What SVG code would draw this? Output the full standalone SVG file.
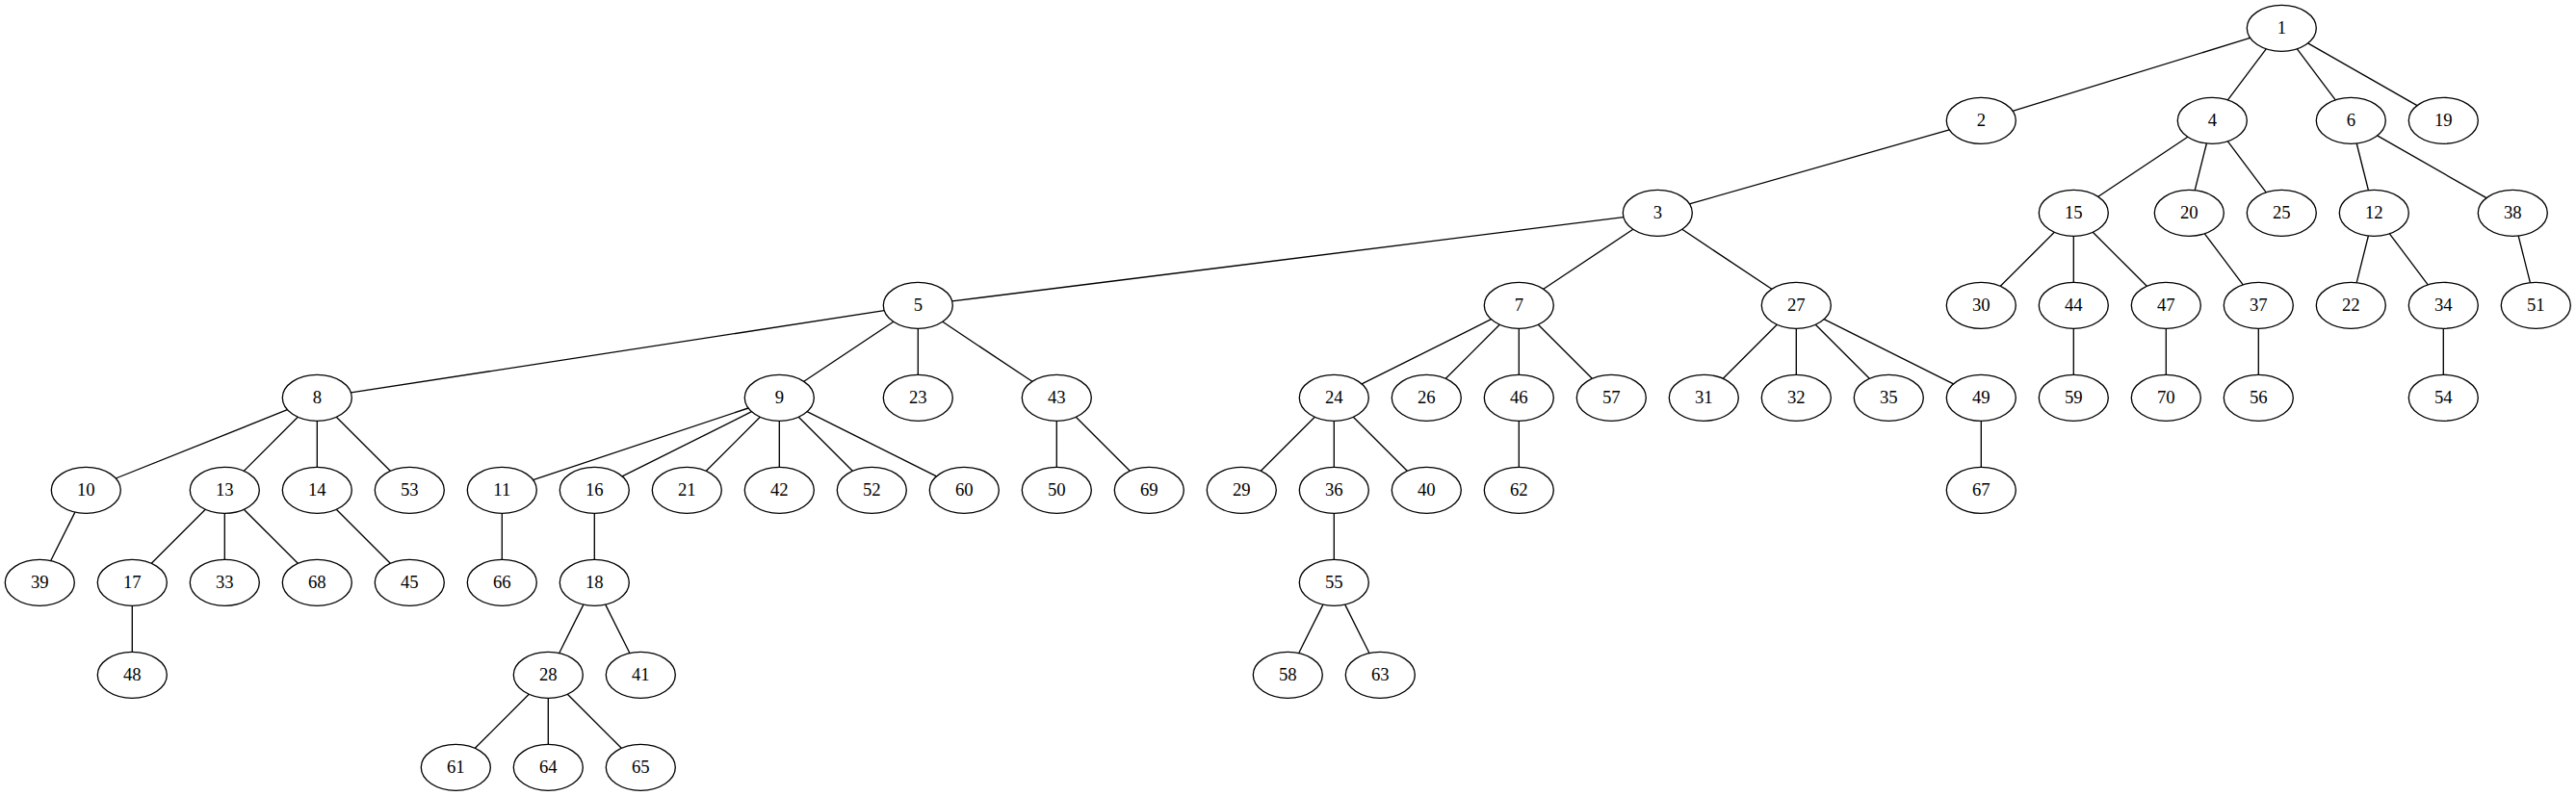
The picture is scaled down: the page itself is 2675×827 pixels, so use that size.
<svg xmlns="http://www.w3.org/2000/svg" width="2675" height="827" viewBox="0 0 2675 827">
<style>
.n ellipse{fill:none;stroke:#000;stroke-width:1.33}
.n text{font-family:"Liberation Serif","Times New Roman",serif;font-size:18.67px;text-anchor:middle;fill:#000}
.e line{stroke:#000;stroke-width:1.33}
</style>
<rect width="2675" height="827" fill="#fff"/>
<g id="edges" class="e">
<line x1="2336.6" y1="39.4" x2="2090.0" y2="115.3"/>
<line x1="2353.2" y1="50.8" x2="2313.4" y2="103.9"/>
<line x1="2385.4" y1="50.8" x2="2425.2" y2="103.9"/>
<line x1="2396.6" y1="44.9" x2="2510.0" y2="109.7"/>
<line x1="2024.2" y1="134.8" x2="1754.4" y2="211.9"/>
<line x1="2271.8" y1="142.3" x2="2178.8" y2="204.3"/>
<line x1="2291.4" y1="149.0" x2="2279.2" y2="197.6"/>
<line x1="2313.4" y1="146.8" x2="2353.2" y2="199.8"/>
<line x1="2447.2" y1="149.0" x2="2459.4" y2="197.6"/>
<line x1="2468.6" y1="140.9" x2="2582.0" y2="205.7"/>
<line x1="1685.9" y1="225.7" x2="988.7" y2="312.9"/>
<line x1="1695.8" y1="238.3" x2="1602.8" y2="300.3"/>
<line x1="1746.8" y1="238.3" x2="1839.8" y2="300.3"/>
<line x1="2133.3" y1="241.3" x2="2077.3" y2="297.3"/>
<line x1="2153.3" y1="245.3" x2="2153.3" y2="293.3"/>
<line x1="2173.3" y1="241.3" x2="2229.3" y2="297.3"/>
<line x1="2289.4" y1="242.8" x2="2329.2" y2="295.8"/>
<line x1="2459.4" y1="245.0" x2="2447.2" y2="293.6"/>
<line x1="2481.4" y1="242.8" x2="2521.2" y2="295.8"/>
<line x1="2615.2" y1="245.0" x2="2627.4" y2="293.6"/>
<line x1="918.2" y1="322.7" x2="364.4" y2="407.9"/>
<line x1="927.8" y1="334.3" x2="834.8" y2="396.3"/>
<line x1="953.3" y1="341.3" x2="953.3" y2="389.3"/>
<line x1="978.8" y1="334.3" x2="1071.8" y2="396.3"/>
<line x1="1548.5" y1="331.7" x2="1414.1" y2="398.9"/>
<line x1="1557.3" y1="337.3" x2="1501.3" y2="393.3"/>
<line x1="1577.3" y1="341.3" x2="1577.3" y2="389.3"/>
<line x1="1597.3" y1="337.3" x2="1653.3" y2="393.3"/>
<line x1="1845.3" y1="337.3" x2="1789.3" y2="393.3"/>
<line x1="1865.3" y1="341.3" x2="1865.3" y2="389.3"/>
<line x1="1885.3" y1="337.3" x2="1941.3" y2="393.3"/>
<line x1="1894.1" y1="331.7" x2="2028.5" y2="398.9"/>
<line x1="2153.3" y1="341.3" x2="2153.3" y2="389.3"/>
<line x1="2249.3" y1="341.3" x2="2249.3" y2="389.3"/>
<line x1="2345.3" y1="341.3" x2="2345.3" y2="389.3"/>
<line x1="2537.3" y1="341.3" x2="2537.3" y2="389.3"/>
<line x1="298.4" y1="425.7" x2="120.2" y2="497.0"/>
<line x1="309.3" y1="433.3" x2="253.3" y2="489.3"/>
<line x1="329.3" y1="437.3" x2="329.3" y2="485.3"/>
<line x1="349.3" y1="433.3" x2="405.3" y2="489.3"/>
<line x1="777.1" y1="424.0" x2="553.5" y2="498.6"/>
<line x1="780.5" y1="427.7" x2="646.1" y2="494.9"/>
<line x1="789.3" y1="433.3" x2="733.3" y2="489.3"/>
<line x1="809.3" y1="437.3" x2="809.3" y2="485.3"/>
<line x1="829.3" y1="433.3" x2="885.3" y2="489.3"/>
<line x1="838.1" y1="427.7" x2="972.5" y2="494.9"/>
<line x1="1097.3" y1="437.3" x2="1097.3" y2="485.3"/>
<line x1="1117.3" y1="433.3" x2="1173.3" y2="489.3"/>
<line x1="1365.3" y1="433.3" x2="1309.3" y2="489.3"/>
<line x1="1385.3" y1="437.3" x2="1385.3" y2="485.3"/>
<line x1="1405.3" y1="433.3" x2="1461.3" y2="489.3"/>
<line x1="1577.3" y1="437.3" x2="1577.3" y2="485.3"/>
<line x1="2057.3" y1="437.3" x2="2057.3" y2="485.3"/>
<line x1="77.9" y1="532.1" x2="52.7" y2="582.5"/>
<line x1="213.3" y1="529.3" x2="157.3" y2="585.3"/>
<line x1="233.3" y1="533.3" x2="233.3" y2="581.3"/>
<line x1="253.3" y1="529.3" x2="309.3" y2="585.3"/>
<line x1="349.3" y1="529.3" x2="405.3" y2="585.3"/>
<line x1="521.3" y1="533.3" x2="521.3" y2="581.3"/>
<line x1="617.3" y1="533.3" x2="617.3" y2="581.3"/>
<line x1="1385.3" y1="533.3" x2="1385.3" y2="581.3"/>
<line x1="137.3" y1="629.3" x2="137.3" y2="677.3"/>
<line x1="605.9" y1="628.1" x2="580.7" y2="678.5"/>
<line x1="628.7" y1="628.1" x2="653.9" y2="678.5"/>
<line x1="1373.9" y1="628.1" x2="1348.7" y2="678.5"/>
<line x1="1396.7" y1="628.1" x2="1421.9" y2="678.5"/>
<line x1="549.3" y1="721.3" x2="493.3" y2="777.3"/>
<line x1="569.3" y1="725.3" x2="569.3" y2="773.3"/>
<line x1="589.3" y1="721.3" x2="645.3" y2="777.3"/>
</g>
<g id="n1" class="n"><ellipse cx="2369.3" cy="29.3" rx="36" ry="24"/><text x="2369.3" y="34.9">1</text></g>
<g id="n2" class="n"><ellipse cx="2057.3" cy="125.3" rx="36" ry="24"/><text x="2057.3" y="130.9">2</text></g>
<g id="n4" class="n"><ellipse cx="2297.3" cy="125.3" rx="36" ry="24"/><text x="2297.3" y="130.9">4</text></g>
<g id="n6" class="n"><ellipse cx="2441.3" cy="125.3" rx="36" ry="24"/><text x="2441.3" y="130.9">6</text></g>
<g id="n19" class="n"><ellipse cx="2537.3" cy="125.3" rx="36" ry="24"/><text x="2537.3" y="130.9">19</text></g>
<g id="n3" class="n"><ellipse cx="1721.3" cy="221.3" rx="36" ry="24"/><text x="1721.3" y="226.9">3</text></g>
<g id="n15" class="n"><ellipse cx="2153.3" cy="221.3" rx="36" ry="24"/><text x="2153.3" y="226.9">15</text></g>
<g id="n20" class="n"><ellipse cx="2273.3" cy="221.3" rx="36" ry="24"/><text x="2273.3" y="226.9">20</text></g>
<g id="n25" class="n"><ellipse cx="2369.3" cy="221.3" rx="36" ry="24"/><text x="2369.3" y="226.9">25</text></g>
<g id="n12" class="n"><ellipse cx="2465.3" cy="221.3" rx="36" ry="24"/><text x="2465.3" y="226.9">12</text></g>
<g id="n38" class="n"><ellipse cx="2609.3" cy="221.3" rx="36" ry="24"/><text x="2609.3" y="226.9">38</text></g>
<g id="n5" class="n"><ellipse cx="953.3" cy="317.3" rx="36" ry="24"/><text x="953.3" y="322.9">5</text></g>
<g id="n7" class="n"><ellipse cx="1577.3" cy="317.3" rx="36" ry="24"/><text x="1577.3" y="322.9">7</text></g>
<g id="n27" class="n"><ellipse cx="1865.3" cy="317.3" rx="36" ry="24"/><text x="1865.3" y="322.9">27</text></g>
<g id="n30" class="n"><ellipse cx="2057.3" cy="317.3" rx="36" ry="24"/><text x="2057.3" y="322.9">30</text></g>
<g id="n44" class="n"><ellipse cx="2153.3" cy="317.3" rx="36" ry="24"/><text x="2153.3" y="322.9">44</text></g>
<g id="n47" class="n"><ellipse cx="2249.3" cy="317.3" rx="36" ry="24"/><text x="2249.3" y="322.9">47</text></g>
<g id="n37" class="n"><ellipse cx="2345.3" cy="317.3" rx="36" ry="24"/><text x="2345.3" y="322.9">37</text></g>
<g id="n22" class="n"><ellipse cx="2441.3" cy="317.3" rx="36" ry="24"/><text x="2441.3" y="322.9">22</text></g>
<g id="n34" class="n"><ellipse cx="2537.3" cy="317.3" rx="36" ry="24"/><text x="2537.3" y="322.9">34</text></g>
<g id="n51" class="n"><ellipse cx="2633.3" cy="317.3" rx="36" ry="24"/><text x="2633.3" y="322.9">51</text></g>
<g id="n8" class="n"><ellipse cx="329.3" cy="413.3" rx="36" ry="24"/><text x="329.3" y="418.9">8</text></g>
<g id="n9" class="n"><ellipse cx="809.3" cy="413.3" rx="36" ry="24"/><text x="809.3" y="418.9">9</text></g>
<g id="n23" class="n"><ellipse cx="953.3" cy="413.3" rx="36" ry="24"/><text x="953.3" y="418.9">23</text></g>
<g id="n43" class="n"><ellipse cx="1097.3" cy="413.3" rx="36" ry="24"/><text x="1097.3" y="418.9">43</text></g>
<g id="n24" class="n"><ellipse cx="1385.3" cy="413.3" rx="36" ry="24"/><text x="1385.3" y="418.9">24</text></g>
<g id="n26" class="n"><ellipse cx="1481.3" cy="413.3" rx="36" ry="24"/><text x="1481.3" y="418.9">26</text></g>
<g id="n46" class="n"><ellipse cx="1577.3" cy="413.3" rx="36" ry="24"/><text x="1577.3" y="418.9">46</text></g>
<g id="n57" class="n"><ellipse cx="1673.3" cy="413.3" rx="36" ry="24"/><text x="1673.3" y="418.9">57</text></g>
<g id="n31" class="n"><ellipse cx="1769.3" cy="413.3" rx="36" ry="24"/><text x="1769.3" y="418.9">31</text></g>
<g id="n32" class="n"><ellipse cx="1865.3" cy="413.3" rx="36" ry="24"/><text x="1865.3" y="418.9">32</text></g>
<g id="n35" class="n"><ellipse cx="1961.3" cy="413.3" rx="36" ry="24"/><text x="1961.3" y="418.9">35</text></g>
<g id="n49" class="n"><ellipse cx="2057.3" cy="413.3" rx="36" ry="24"/><text x="2057.3" y="418.9">49</text></g>
<g id="n59" class="n"><ellipse cx="2153.3" cy="413.3" rx="36" ry="24"/><text x="2153.3" y="418.9">59</text></g>
<g id="n70" class="n"><ellipse cx="2249.3" cy="413.3" rx="36" ry="24"/><text x="2249.3" y="418.9">70</text></g>
<g id="n56" class="n"><ellipse cx="2345.3" cy="413.3" rx="36" ry="24"/><text x="2345.3" y="418.9">56</text></g>
<g id="n54" class="n"><ellipse cx="2537.3" cy="413.3" rx="36" ry="24"/><text x="2537.3" y="418.9">54</text></g>
<g id="n10" class="n"><ellipse cx="89.3" cy="509.3" rx="36" ry="24"/><text x="89.3" y="514.9">10</text></g>
<g id="n13" class="n"><ellipse cx="233.3" cy="509.3" rx="36" ry="24"/><text x="233.3" y="514.9">13</text></g>
<g id="n14" class="n"><ellipse cx="329.3" cy="509.3" rx="36" ry="24"/><text x="329.3" y="514.9">14</text></g>
<g id="n53" class="n"><ellipse cx="425.3" cy="509.3" rx="36" ry="24"/><text x="425.3" y="514.9">53</text></g>
<g id="n11" class="n"><ellipse cx="521.3" cy="509.3" rx="36" ry="24"/><text x="521.3" y="514.9">11</text></g>
<g id="n16" class="n"><ellipse cx="617.3" cy="509.3" rx="36" ry="24"/><text x="617.3" y="514.9">16</text></g>
<g id="n21" class="n"><ellipse cx="713.3" cy="509.3" rx="36" ry="24"/><text x="713.3" y="514.9">21</text></g>
<g id="n42" class="n"><ellipse cx="809.3" cy="509.3" rx="36" ry="24"/><text x="809.3" y="514.9">42</text></g>
<g id="n52" class="n"><ellipse cx="905.3" cy="509.3" rx="36" ry="24"/><text x="905.3" y="514.9">52</text></g>
<g id="n60" class="n"><ellipse cx="1001.3" cy="509.3" rx="36" ry="24"/><text x="1001.3" y="514.9">60</text></g>
<g id="n50" class="n"><ellipse cx="1097.3" cy="509.3" rx="36" ry="24"/><text x="1097.3" y="514.9">50</text></g>
<g id="n69" class="n"><ellipse cx="1193.3" cy="509.3" rx="36" ry="24"/><text x="1193.3" y="514.9">69</text></g>
<g id="n29" class="n"><ellipse cx="1289.3" cy="509.3" rx="36" ry="24"/><text x="1289.3" y="514.9">29</text></g>
<g id="n36" class="n"><ellipse cx="1385.3" cy="509.3" rx="36" ry="24"/><text x="1385.3" y="514.9">36</text></g>
<g id="n40" class="n"><ellipse cx="1481.3" cy="509.3" rx="36" ry="24"/><text x="1481.3" y="514.9">40</text></g>
<g id="n62" class="n"><ellipse cx="1577.3" cy="509.3" rx="36" ry="24"/><text x="1577.3" y="514.9">62</text></g>
<g id="n67" class="n"><ellipse cx="2057.3" cy="509.3" rx="36" ry="24"/><text x="2057.3" y="514.9">67</text></g>
<g id="n39" class="n"><ellipse cx="41.3" cy="605.3" rx="36" ry="24"/><text x="41.3" y="610.9">39</text></g>
<g id="n17" class="n"><ellipse cx="137.3" cy="605.3" rx="36" ry="24"/><text x="137.3" y="610.9">17</text></g>
<g id="n33" class="n"><ellipse cx="233.3" cy="605.3" rx="36" ry="24"/><text x="233.3" y="610.9">33</text></g>
<g id="n68" class="n"><ellipse cx="329.3" cy="605.3" rx="36" ry="24"/><text x="329.3" y="610.9">68</text></g>
<g id="n45" class="n"><ellipse cx="425.3" cy="605.3" rx="36" ry="24"/><text x="425.3" y="610.9">45</text></g>
<g id="n66" class="n"><ellipse cx="521.3" cy="605.3" rx="36" ry="24"/><text x="521.3" y="610.9">66</text></g>
<g id="n18" class="n"><ellipse cx="617.3" cy="605.3" rx="36" ry="24"/><text x="617.3" y="610.9">18</text></g>
<g id="n55" class="n"><ellipse cx="1385.3" cy="605.3" rx="36" ry="24"/><text x="1385.3" y="610.9">55</text></g>
<g id="n48" class="n"><ellipse cx="137.3" cy="701.3" rx="36" ry="24"/><text x="137.3" y="706.9">48</text></g>
<g id="n28" class="n"><ellipse cx="569.3" cy="701.3" rx="36" ry="24"/><text x="569.3" y="706.9">28</text></g>
<g id="n41" class="n"><ellipse cx="665.3" cy="701.3" rx="36" ry="24"/><text x="665.3" y="706.9">41</text></g>
<g id="n58" class="n"><ellipse cx="1337.3" cy="701.3" rx="36" ry="24"/><text x="1337.3" y="706.9">58</text></g>
<g id="n63" class="n"><ellipse cx="1433.3" cy="701.3" rx="36" ry="24"/><text x="1433.3" y="706.9">63</text></g>
<g id="n61" class="n"><ellipse cx="473.3" cy="797.3" rx="36" ry="24"/><text x="473.3" y="802.9">61</text></g>
<g id="n64" class="n"><ellipse cx="569.3" cy="797.3" rx="36" ry="24"/><text x="569.3" y="802.9">64</text></g>
<g id="n65" class="n"><ellipse cx="665.3" cy="797.3" rx="36" ry="24"/><text x="665.3" y="802.9">65</text></g>
</svg>
